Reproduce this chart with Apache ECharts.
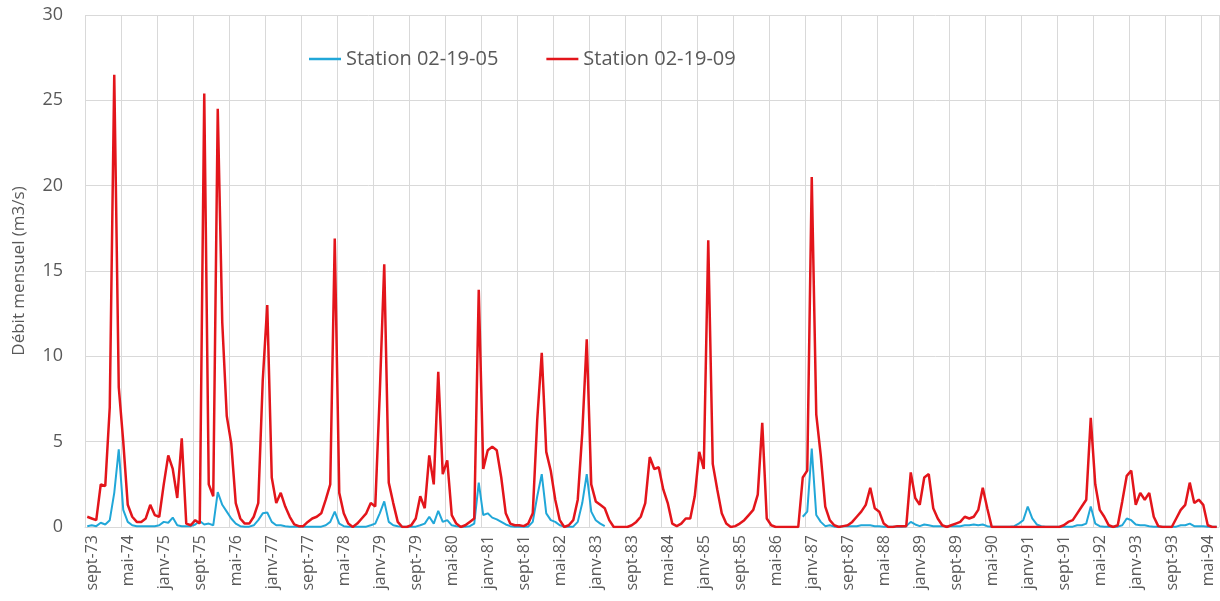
<!DOCTYPE html>
<html>
<head>
<meta charset="utf-8">
<script src="https://cdn.jsdelivr.net/npm/echarts@6/dist/echarts.min.js"></script>
<style>
html,body{margin:0;padding:0;background:#fff;}
#chart{width:1220px;height:601px;}
</style>
</head>
<body>
<div id="chart"></div>
<script>
// Month names (French) used to build the category labels
const monthNames = ['janv','févr','mars','avr','mai','juin','juil','août','sept','oct','nov','déc'];
const startMonth = 8;   // sept
const startYear = 73;
const nMonths = 252;    // sept-73 .. août-94

const categories = [];
for (let k = 0; k < nMonths; k++) {
  const m = (startMonth + k) % 12;
  const y = startYear + Math.floor((startMonth + k) / 12);
  categories.push(monthNames[m] + '-' + String(y % 100).padStart(2, '0'));
}

const yTicks = [0, 5, 10, 15, 20, 25, 30];

// Station 02-19-05 (blue) – monthly discharge m3/s, null = no data
const station0205 = [
  0.05,0.1,0.05,0.25,0.15,0.4,2.0,4.55,1.0,0.3,      // 0-9
  0.1,0.05,0.05,0.05,0.05,0.05,0.1,0.3,0.25,0.55,    // 10-19
  0.1,0.05,0.05,0.05,0.15,0.35,0.15,0.2,0.1,2.05,    // 20-29
  1.3,0.9,0.5,0.2,0.05,0.02,0.02,0.1,0.4,0.8,        // 30-39
  0.85,0.3,0.1,0.1,0.05,0.02,0.02,0.02,0.02,0.02,    // 40-49
  0.02,0.02,0.02,0.1,0.3,0.9,0.2,0.05,0.02,0.02,     // 50-59
  0.02,0.02,0.02,0.1,0.2,0.8,1.5,0.3,0.1,0.05,       // 60-69
  0.02,0.02,0.02,0.02,0.1,0.2,0.6,0.2,0.95,0.3,      // 70-79
  0.4,0.1,0.05,0.02,0.02,0.05,0.2,2.6,0.7,0.8,       // 80-89
  0.55,0.45,0.3,0.15,0.05,0.02,0.02,0.02,0.02,0.3,   // 90-99
  1.8,3.1,0.8,0.4,0.3,0.1,0.02,0.02,0.02,0.3,        // 100-109
  1.4,3.1,0.9,0.4,0.2,0.05,null,null,null,null,      // 110-119
  null,null,null,null,null,null,null,null,null,null, // 120-129
  null,null,null,null,null,null,null,null,null,null, // 130-139
  null,null,null,null,null,null,null,null,null,null, // 140-149
  null,null,null,null,null,null,null,null,null,0.6,  // 150-159
  0.9,4.6,0.7,0.3,0.05,0.1,0.02,0.02,0.05,0.05,      // 160-169
  0.05,0.05,0.1,0.1,0.1,0.05,0.05,0.02,0.02,0.02,    // 170-179
  0.02,0.02,0.05,0.3,0.15,0.05,0.15,0.1,0.05,0.05,   // 180-189
  0.05,0.05,0.05,0.05,0.05,0.1,0.1,0.15,0.1,0.15,    // 190-199
  0.05,0.02,0.02,0.02,0.02,0.02,0.05,0.2,0.4,1.2,    // 200-209
  0.5,0.15,0.05,0.02,0.02,0.02,0.02,0.02,0.02,0.02,  // 210-219
  0.1,0.1,0.2,1.2,0.2,0.05,0.02,0.02,0.02,0.02,      // 220-229
  0.1,0.5,0.4,0.15,0.1,0.1,0.05,0.02,0.02,0.02,      // 230-239
  0.02,0.02,0.02,0.1,0.1,0.2,0.05,0.05,0.05,0.02,    // 240-249
  0.02,0.02                                          // 250-251
];

// Station 02-19-09 (red) – monthly discharge m3/s
const station0209 = [
  0.6,0.5,0.4,2.5,2.4,7.0,26.5,8.2,5.0,1.3,          // 0-9
  0.6,0.3,0.3,0.5,1.3,0.7,0.6,2.5,4.2,3.4,           // 10-19
  1.7,5.2,0.2,0.1,0.4,0.2,25.4,2.5,1.8,24.5,         // 20-29
  12.0,6.5,4.9,1.4,0.5,0.2,0.2,0.6,1.4,8.6,          // 30-39
  13.0,2.9,1.4,2.0,1.2,0.6,0.15,0.05,0.05,0.3,       // 40-49
  0.5,0.6,0.8,1.6,2.5,16.9,2.0,0.8,0.2,0.0,          // 50-59
  0.2,0.5,0.8,1.4,1.2,7.8,15.4,2.6,1.4,0.3,          // 60-69
  0.0,0.0,0.1,0.5,1.8,1.1,4.2,2.5,9.1,3.1,           // 70-79
  3.9,0.7,0.2,0.0,0.1,0.3,0.5,13.9,3.4,4.5,          // 80-89
  4.7,4.5,2.9,0.8,0.2,0.1,0.1,0.05,0.2,0.8,          // 90-99
  6.3,10.2,4.4,3.3,1.6,0.4,0.0,0.1,0.4,1.6,          // 100-109
  5.5,11.0,2.5,1.5,1.3,1.1,0.4,0.0,0.0,0.0,          // 110-119
  0.0,0.1,0.3,0.6,1.4,4.1,3.4,3.5,2.2,1.4,           // 120-129
  0.2,0.05,0.2,0.5,0.5,1.8,4.4,3.4,16.8,3.7,         // 130-139
  2.2,0.8,0.2,0.0,0.05,0.2,0.4,0.7,1.0,1.9,          // 140-149
  6.1,0.5,0.1,0.0,0.0,0.0,0.0,0.0,0.0,2.9,           // 150-159
  3.3,20.5,6.6,4.2,1.2,0.4,0.1,0.0,0.05,0.1,         // 160-169
  0.3,0.6,0.9,1.3,2.3,1.1,0.9,0.2,0.0,0.0,           // 170-179
  0.05,0.05,0.05,3.2,1.7,1.3,2.9,3.1,1.1,0.5,        // 180-189
  0.1,0.0,0.1,0.2,0.3,0.6,0.5,0.6,1.0,2.3,           // 190-199
  1.1,0.0,0.0,0.0,0.0,0.0,0.0,0.0,0.0,0.0,           // 200-209
  0.0,0.0,0.0,0.0,0.0,0.0,0.0,0.1,0.3,0.4,           // 210-219
  0.8,1.2,1.6,6.4,2.5,1.0,0.6,0.1,0.0,0.1,           // 220-229
  1.5,3.0,3.3,1.3,2.0,1.6,2.0,0.6,0.05,0.0,          // 230-239
  0.0,0.0,0.5,1.0,1.3,2.6,1.4,1.6,1.3,0.1,           // 240-249
  0.0,0.0                                            // 250-251
];

const seriesNames = ['Station 02-19-05', 'Station 02-19-09'];
const seriesColors = ['#21a7d8', '#e3151b'];

const chart = echarts.init(document.getElementById('chart'), null, {renderer: 'canvas'});
const gridColor = '#d9d9d9';
const textColor = '#595959';
const font = 'Open Sans';

chart.setOption({
  animation: false,
  backgroundColor: '#ffffff',
  textStyle: {fontFamily: font},
  legend: {
    data: seriesNames,
    icon: 'rect',
    left: 304,
    top: 44,
    itemWidth: 32,
    itemHeight: 2.5,
    itemGap: 48,
    textStyle: {fontSize: 20, color: textColor, fontFamily: font}
  },
  grid: {left: 85, top: 15, right: 1, bottom: 74, containLabel: false},
  xAxis: {
    type: 'category',
    data: categories,
    boundaryGap: true,
    axisLine: {show: true, lineStyle: {color: gridColor, width: 1}},
    axisTick: {show: false, interval: 7},
    axisLabel: {interval: 7, rotate: 90, fontSize: 16, color: textColor, margin: 8,
                fontFamily: font, verticalAlign: 'top', lineHeight: 10},
    splitLine: {show: true, interval: 7, lineStyle: {color: gridColor, width: 1}}
  },
  yAxis: {
    type: 'value',
    min: yTicks[0],
    max: yTicks[yTicks.length - 1],
    interval: 5,
    name: 'Débit mensuel (m3/s)',
    nameLocation: 'middle',
    nameGap: 57,
    nameTextStyle: {fontSize: 17, color: textColor, fontFamily: font},
    axisLine: {show: false},
    axisTick: {show: false},
    axisLabel: {fontSize: 18, color: textColor, margin: 22, fontFamily: font},
    splitLine: {show: true, lineStyle: {color: gridColor, width: 1}}
  },
  series: [
    {
      name: seriesNames[0],
      type: 'line',
      data: station0205,
      symbol: 'none',
      connectNulls: false,
      lineStyle: {color: seriesColors[0], width: 2},
      itemStyle: {color: seriesColors[0]}
    },
    {
      name: seriesNames[1],
      type: 'line',
      data: station0209,
      symbol: 'none',
      connectNulls: false,
      lineStyle: {color: seriesColors[1], width: 2.5},
      itemStyle: {color: seriesColors[1]}
    }
  ]
});
</script>
</body>
</html>
